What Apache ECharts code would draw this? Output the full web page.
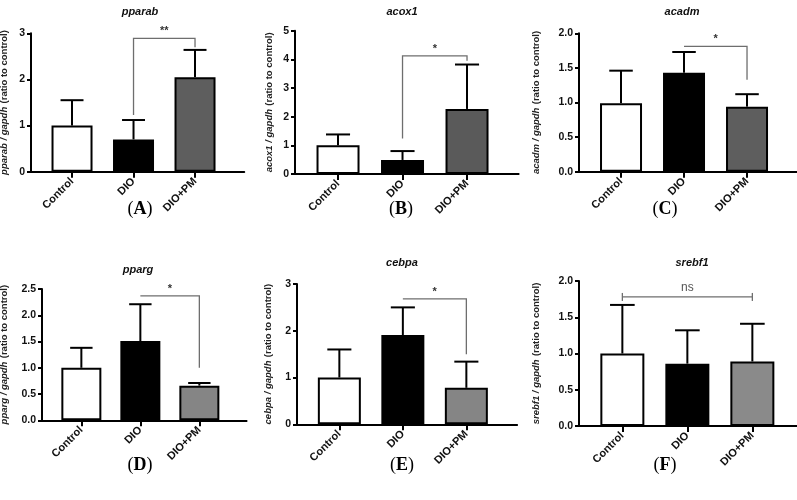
<!DOCTYPE html>
<html><head><meta charset="utf-8">
<script src="https://cdn.jsdelivr.net/npm/echarts@6/dist/echarts.min.js"></script>
<style>html,body{margin:0;padding:0;background:#fff}#c{width:797px;height:500px}</style>
</head><body><div id="c"></div>
<script>
// ---- data ----
const categories = ['Control', 'DIO', 'DIO+PM'];
const genes = ['pparab', 'acox1', 'acadm', 'pparg', 'cebpa', 'srebf1'];
const panelLetters = ['A', 'B', 'C', 'D', 'E', 'F'];

const yMax = [3, 5, 2.0, 2.5, 3, 2.0];
const yStep = [1, 1, 0.5, 0.5, 1, 0.5];
const yDecimals = [0, 0, 1, 1, 0, 1];

const meanA = [1.00, 0.70, 2.05];  const sdA = [0.55, 0.42, 0.59];
const meanB = [1.00, 0.49, 2.27];  const sdB = [0.38, 0.31, 1.55];
const meanC = [0.99, 1.43, 0.94];  const sdC = [0.47, 0.30, 0.18];
const meanD = [1.00, 1.51, 0.66];  const sdD = [0.38, 0.70, 0.05];
const meanE = [1.00, 1.91, 0.78];  const sdE = [0.60, 0.59, 0.56];
const meanF = [1.00, 0.86, 0.89];  const sdF = [0.67, 0.46, 0.52];

// significance brackets: [fromCategory, toCategory, top, leftEnd, rightEnd]
const bracketA = [1, 2, 2.89, 1.23, 2.70]; const labelA = '**';
const bracketB = [1, 2, 4.12, 1.24, 3.95]; const labelB = '*';
const bracketC = [1, 2, 1.81, 1.81, 1.33]; const labelC = '*';
const bracketD = [1, 2, 2.37, 2.37, 1.00]; const labelD = '*';
const bracketE = [1, 2, 2.68, 2.68, 1.50]; const labelE = '*';
const bracketF = [0, 2, 1.78, 1.78, 1.78]; const labelF = 'ns';

const means = [meanA, meanB, meanC, meanD, meanE, meanF];
const sds = [sdA, sdB, sdC, sdD, sdE, sdF];
const brackets = [bracketA, bracketB, bracketC, bracketD, bracketE, bracketF];
const bracketLabels = [labelA, labelB, labelC, labelD, labelE, labelF];

// ---- layout (pixels) ----
const XMIN = -0.667, XMAX = 2.8;
const layout = [
  {ax: 31,  sp: 61.5, top: 33.3, y0: 171.7, gap: 21, tx: 140, ty: 12,  lx: 140, ly: 209, pm: '#5e5e5e'},
  {ax: 295, sp: 64.5, top: 30.7, y0: 174,   gap: 20, tx: 402, ty: 12,  lx: 401, ly: 209, pm: '#5a5a5a'},
  {ax: 579, sp: 63,   top: 33.3, y0: 171.7, gap: 37, tx: 682, ty: 12,  lx: 665, ly: 209, pm: '#5e5e5e'},
  {ax: 42,  sp: 59,   top: 289,  y0: 420.3, gap: 32, tx: 138, ty: 270, lx: 140, ly: 465, pm: '#858585'},
  {ax: 297, sp: 63.5, top: 284,  y0: 424.3, gap: 23, tx: 402, ty: 263, lx: 402, ly: 465, pm: '#858585'},
  {ax: 579, sp: 65,   top: 281,  y0: 426,   gap: 37, tx: 692, ty: 263, lx: 665, ly: 465, pm: '#8a8a8a'}
];

const FONT = 'Liberation Sans, Arial, sans-serif';
const grids = [], xAxes = [], yAxes = [], series = [], graphics = [];

layout.forEach((L, i) => {
  const w = L.sp * (XMAX - XMIN);
  const bw = Math.round(L.sp * 0.67);
  grids.push({left: L.ax, top: L.top, width: w, height: L.y0 - L.top, containLabel: false, outerBoundsMode: 'none'});
  xAxes.push({
    gridIndex: i, type: 'value', min: XMIN, max: XMAX,
    splitLine: {show: false},
    axisLine: {show: true, onZero: false, lineStyle: {color: '#000', width: 2}},
    axisTick: {show: true, customValues: [0, 1, 2], length: 6, lineStyle: {color: '#000', width: 2}},
    axisLabel: {show: true, customValues: [0, 1, 2], formatter: v => categories[Math.round(v)],
      rotate: 45, fontWeight: 'bold', fontSize: 11, color: '#111', margin: 8, fontFamily: FONT}
  });
  yAxes.push({
    gridIndex: i, type: 'value', min: 0, max: yMax[i], interval: yStep[i],
    splitLine: {show: false},
    axisLine: {show: true, onZero: false, lineStyle: {color: '#000', width: 2}},
    axisTick: {show: true, length: 4, lineStyle: {color: '#000', width: 2}},
    axisLabel: {fontWeight: 'bold', fontSize: 10.5, color: '#111', margin: 6, fontFamily: FONT,
      formatter: v => v.toFixed(yDecimals[i])},
    name: '{i|' + genes[i] + ' / gapdh} {n|(ratio to control)}',
    nameLocation: 'middle', nameRotate: 90, nameGap: L.gap,
    nameTextStyle: {rich: {
      i: {fontStyle: 'italic', fontWeight: 'bold', fontSize: 9.5, color: '#222', fontFamily: FONT},
      n: {fontWeight: 'bold', fontSize: 9.5, color: '#222', fontFamily: FONT}
    }}
  });
  const fills = ['#ffffff', '#000000', L.pm];
  series.push({
    type: 'bar', xAxisIndex: i, yAxisIndex: i, barWidth: bw, z: 2, silent: true,
    data: means[i].map((m, k) => ({value: [k, m], itemStyle: {color: fills[k], borderColor: '#000', borderWidth: 2}}))
  });
  series.push({
    type: 'custom', xAxisIndex: i, yAxisIndex: i, z: 1, silent: true,
    data: means[i].map((m, k) => [k, m, m + sds[i][k]]),
    encode: {x: 0, y: [1, 2]},
    renderItem: (params, api) => {
      const a = api.coord([api.value(0), api.value(1)]);
      const b = api.coord([api.value(0), api.value(2)]);
      const hw = bw * 0.28;
      return {type: 'group', children: [
        {type: 'line', shape: {x1: a[0], y1: a[1], x2: b[0], y2: b[1]}, style: {stroke: '#000', lineWidth: 2}},
        {type: 'line', shape: {x1: b[0] - hw, y1: b[1], x2: b[0] + hw, y2: b[1]}, style: {stroke: '#000', lineWidth: 2}}
      ]};
    }
  });
  const lab = bracketLabels[i];
  series.push({
    type: 'custom', xAxisIndex: i, yAxisIndex: i, z: 4, silent: true,
    data: [brackets[i]],
    encode: {x: [0, 1], y: [2, 3, 4]},
    renderItem: (params, api) => {
      const x1 = api.value(0), x2 = api.value(1), top = api.value(2);
      const pl = api.coord([x1, api.value(3)]);
      const pt1 = api.coord([x1, top]);
      const pt2 = api.coord([x2, top]);
      const pr = api.coord([x2, api.value(4)]);
      const st = {stroke: '#6e6e6e', lineWidth: 1.3, fill: null};
      const ch = [{type: 'polyline', shape: {points: [pl, pt1, pt2, pr]}, style: st}];
      const ns = lab === 'ns';
      if (ns) {
        ch.push({type: 'line', shape: {x1: pt1[0], y1: pt1[1] - 4, x2: pt1[0], y2: pt1[1] + 4}, style: st});
        ch.push({type: 'line', shape: {x1: pt2[0], y1: pt2[1] - 4, x2: pt2[0], y2: pt2[1] + 4}, style: st});
      }
      ch.push({type: 'text', x: (pt1[0] + pt2[0]) / 2, y: pt1[1] - (ns ? 9 : 7),
        style: {text: lab, textAlign: 'center', textVerticalAlign: 'middle',
          font: (ns ? 'normal 12px ' : 'bold 11px ') + FONT, fill: ns ? '#555' : '#333'}});
      return {type: 'group', children: ch};
    }
  });
  graphics.push({type: 'text', x: L.tx, y: L.ty, silent: true,
    style: {text: genes[i], textAlign: 'center', textVerticalAlign: 'middle',
      font: 'italic bold 11px ' + FONT, fill: '#111'}});
  graphics.push({type: 'text', x: L.lx, y: L.ly, silent: true,
    style: {text: '(' + '{b|' + panelLetters[i] + '})', textAlign: 'center', textVerticalAlign: 'middle',
      font: '18px Liberation Serif, Times New Roman, serif', fill: '#000',
      rich: {b: {fontWeight: 'bold', fontSize: 18, fontFamily: 'Liberation Serif, Times New Roman, serif'}}}});
});

const chart = echarts.init(document.getElementById('c'), null, {renderer: 'canvas'});
chart.setOption({
  animation: false,
  backgroundColor: '#fff',
  grid: grids, xAxis: xAxes, yAxis: yAxes, series: series, graphic: graphics
});
</script>
</body></html>
